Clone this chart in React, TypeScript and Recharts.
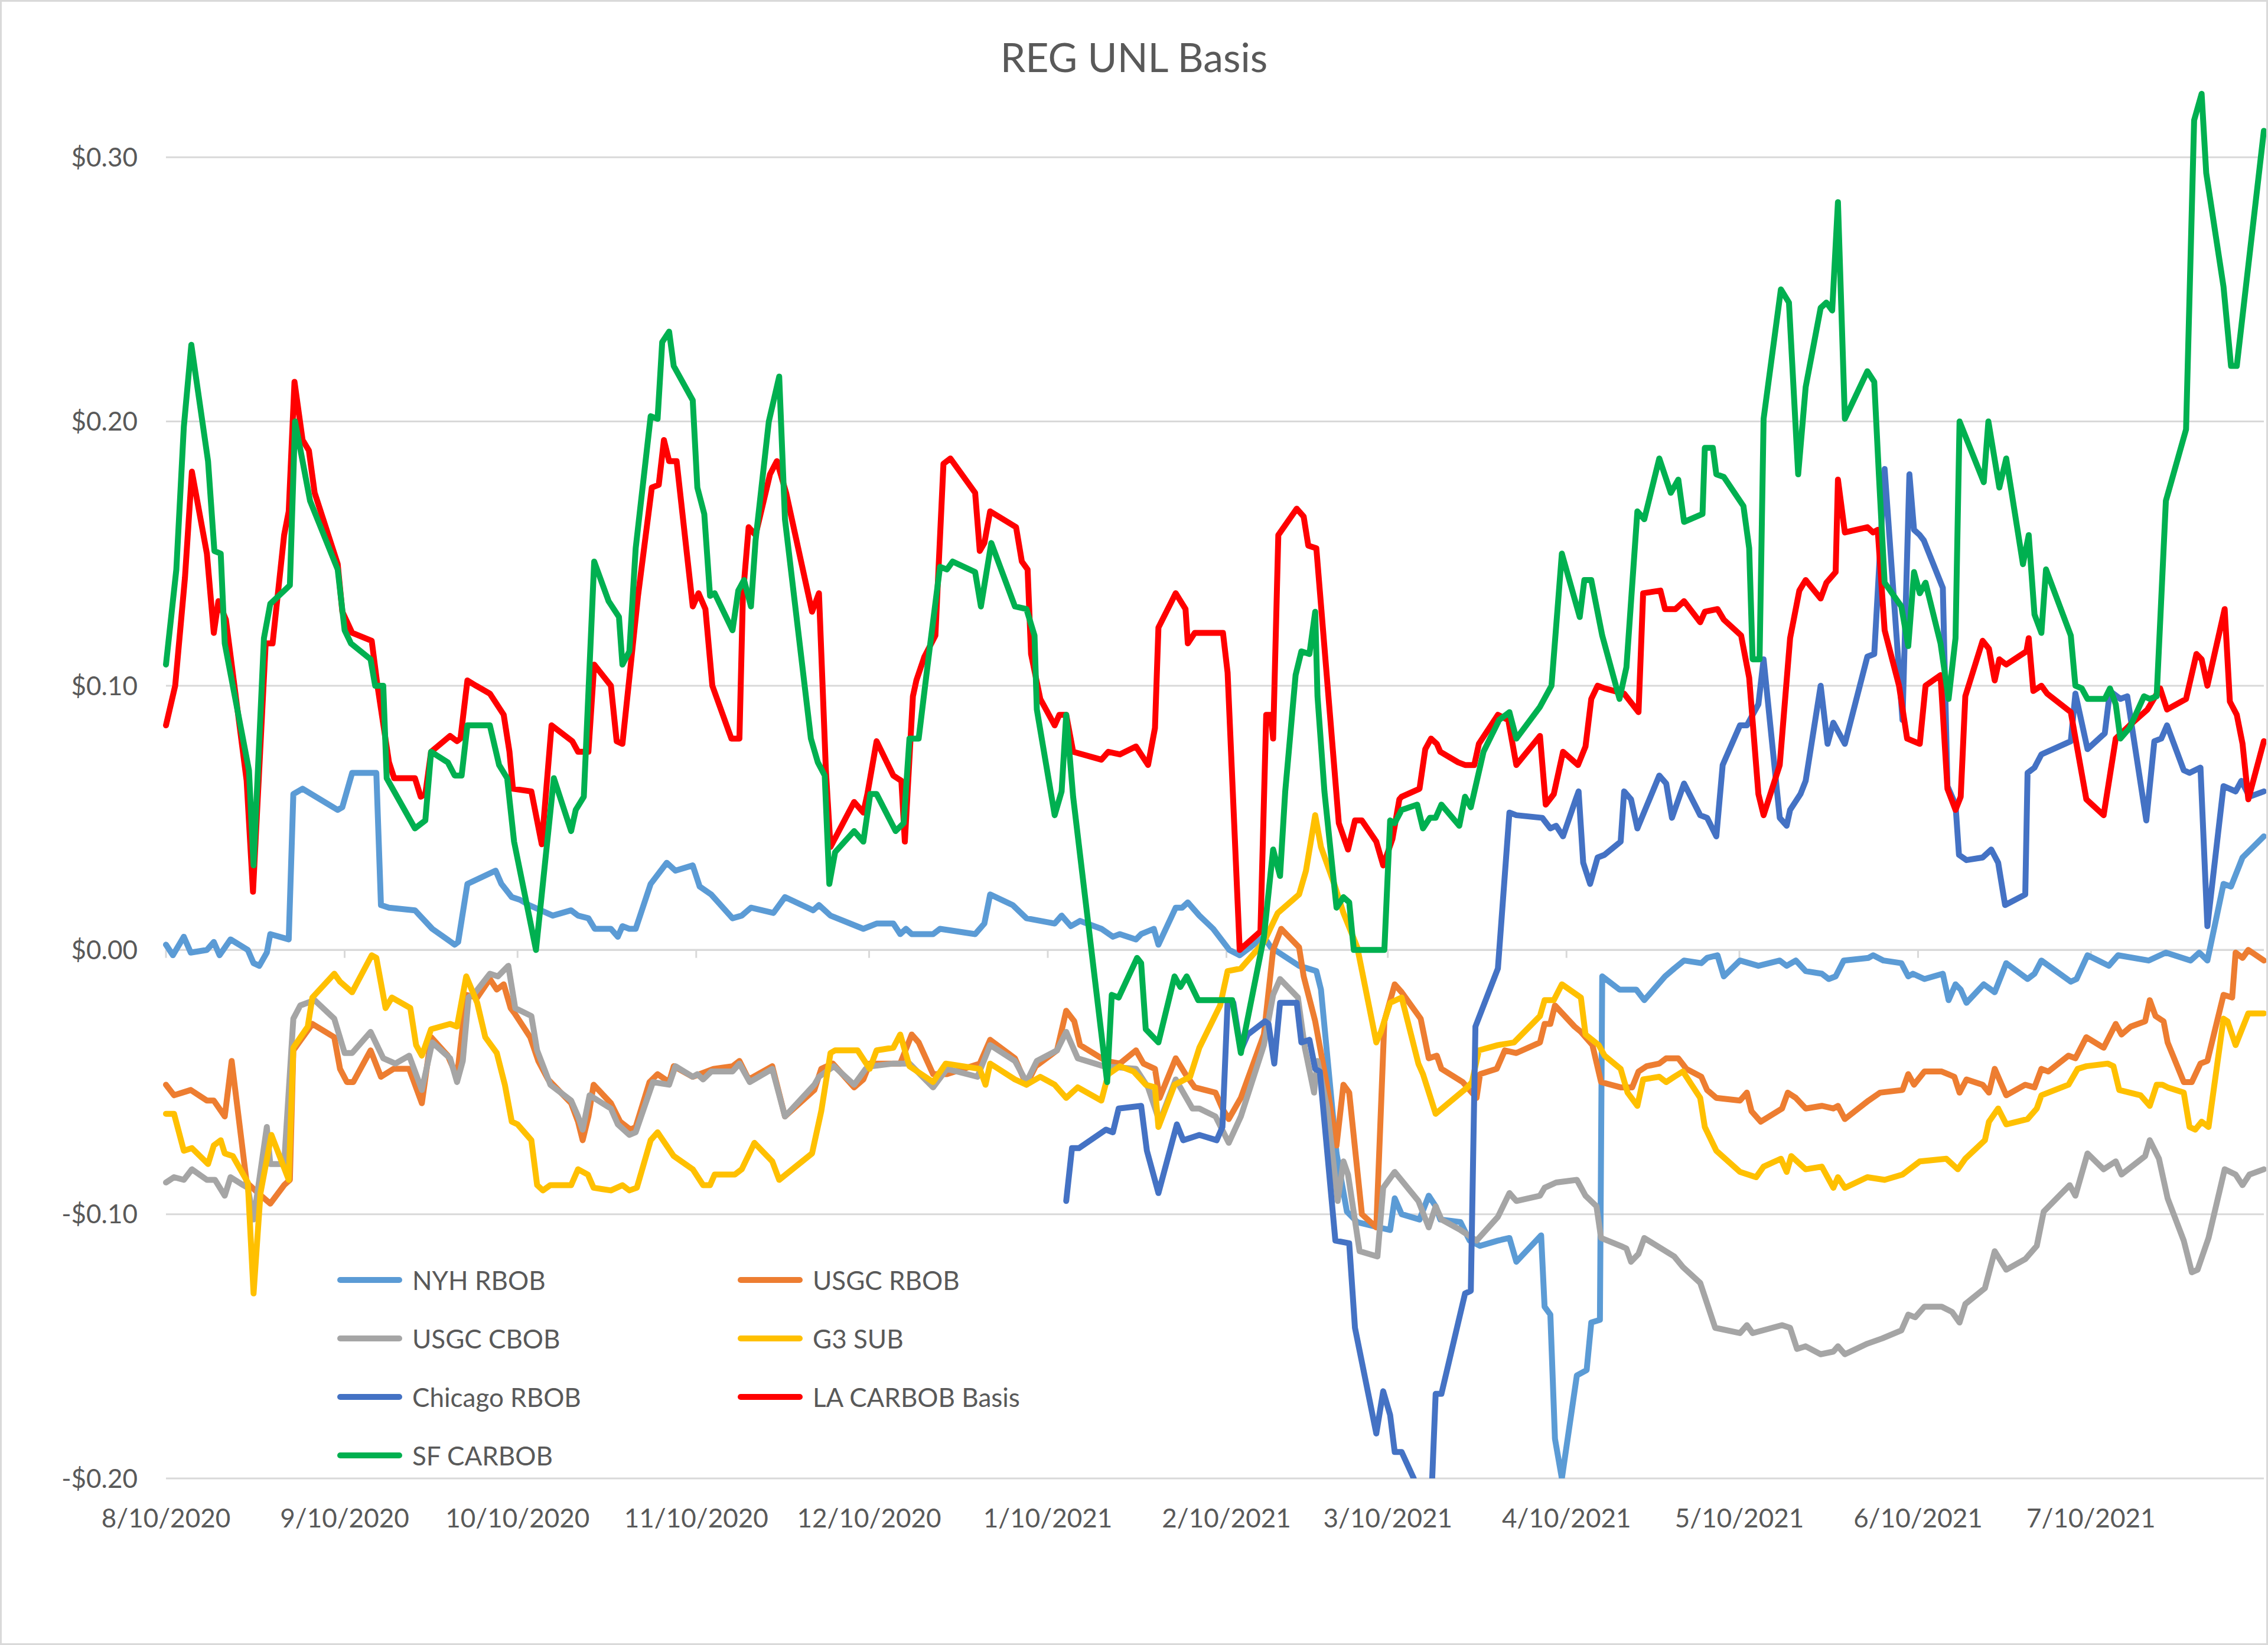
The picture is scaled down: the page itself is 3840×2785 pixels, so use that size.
import React from 'react';
import { LineChart, Line, XAxis, YAxis, CartesianGrid, Legend, ReferenceLine } from 'recharts';

// x values are days counted from 8/10/2020
type Pt = [number, number];

const tickDays = [0, 31, 61, 92, 122, 153, 184, 212, 243, 273, 304, 334];
const tickLabels = ['8/10/2020', '9/10/2020', '10/10/2020', '11/10/2020', '12/10/2020', '1/10/2021', '2/10/2021', '3/10/2021', '4/10/2021', '5/10/2021', '6/10/2021', '7/10/2021'];
const yTicks = [-0.2, -0.1, 0, 0.1, 0.2, 0.3];

const nyhRbob: Pt[] = [
  [0, 0.002], [1.2, -0.002], [3.1, 0.005], [4.3, -0.001], [7.1, 0], [8.3, 0.003], [9.3, -0.002], [11.2, 0.004], [14.2, 0], [15.2, -0.005],
  [16.2, -0.006], [17.5, -0.001], [18.1, 0.006], [21.3, 0.004], [22.1, 0.059], [23.7, 0.061], [29.8, 0.053], [30.6, 0.054], [32.3, 0.067], [36.5, 0.067],
  [37.3, 0.017], [38.7, 0.016], [43.2, 0.015], [46.2, 0.008], [50.1, 0.002], [50.7, 0.003], [52.3, 0.025], [57.2, 0.03], [58.2, 0.025], [60, 0.02],
  [61.4, 0.019], [63, 0.017], [67.1, 0.013], [70.3, 0.015], [71.5, 0.013], [73.3, 0.012], [74.4, 0.008], [77.2, 0.008], [78.4, 0.005], [79.2, 0.009],
  [80.4, 0.008], [81.5, 0.008], [84.1, 0.025], [86.9, 0.033], [88.4, 0.03], [91.4, 0.032], [92.6, 0.024], [94.6, 0.021], [98.3, 0.012], [99.9, 0.013],
  [101.5, 0.016], [105.4, 0.014], [107.4, 0.02], [112.3, 0.015], [113.3, 0.017], [115.3, 0.013], [121, 0.008], [123.3, 0.01], [126.2, 0.01], [127.4, 0.006],
  [128.4, 0.008], [129.4, 0.006], [133.1, 0.006], [134.3, 0.008], [140.4, 0.006], [142, 0.01], [143, 0.021], [146.9, 0.017], [149.3, 0.012], [154.2, 0.01],
  [155.4, 0.013], [157, 0.009], [158.6, 0.011], [162.3, 0.008], [164.3, 0.005], [165.5, 0.006], [168.3, 0.004], [169.2, 0.006], [171.4, 0.008], [172.2, 0.002],
  [175.2, 0.016], [176.3, 0.016], [177.3, 0.018], [179.3, 0.013], [181.7, 0.008], [184.5, 0], [186.3, -0.002], [190.5, 0.005], [191.7, 0.001], [196.6, -0.006],
  [199.6, -0.008], [200.4, -0.015], [203.1, -0.077], [204.9, -0.099], [206.7, -0.103], [210.4, -0.105], [212.4, -0.106], [213.2, -0.094], [214.4, -0.1], [217.5, -0.102],
  [219.1, -0.093], [220.3, -0.097], [221.1, -0.102], [224.6, -0.103], [226.2, -0.11], [228, -0.112], [231.1, -0.11], [233.1, -0.109], [234.3, -0.118], [238.6, -0.108],
  [239.2, -0.135], [240.2, -0.138], [241, -0.185], [242.2, -0.2], [244.8, -0.161], [246.5, -0.159], [247.3, -0.141], [248.8, -0.14], [249.2, -0.01], [252.2, -0.015],
  [255.1, -0.015], [256.5, -0.019], [260.1, -0.01], [261.7, -0.007], [263.4, -0.004], [266.4, -0.005], [267.4, -0.003], [269.2, -0.002], [270.3, -0.01], [273.1, -0.004],
  [276.3, -0.006], [280, -0.004], [281.2, -0.006], [282.8, -0.004], [284.5, -0.008], [287.3, -0.009], [288.5, -0.011], [289.7, -0.01], [291.1, -0.004], [295.4, -0.003],
  [296.2, -0.002], [298, -0.004], [301.1, -0.005], [302.3, -0.01], [303.1, -0.009], [305.1, -0.011], [308.3, -0.009], [309.3, -0.019], [310.5, -0.013], [311.4, -0.015],
  [312.4, -0.02], [315.4, -0.013], [317.3, -0.016], [319.3, -0.005], [323, -0.011], [324.2, -0.009], [325.4, -0.004], [330.5, -0.012], [331.5, -0.011], [333.4, -0.002],
  [337.1, -0.006], [338.7, -0.002], [344, -0.004], [347, -0.001], [351.3, -0.004], [352.8, -0.001], [354.2, -0.004], [357, 0.025], [358.3, 0.024], [360.3, 0.035],
  [364, 0.043],
];

const usgcRbob: Pt[] = [
  [0, -0.051], [1.4, -0.055], [4.3, -0.053], [7.1, -0.057], [8.3, -0.057], [10.2, -0.063], [11.4, -0.042], [14, -0.088], [16.5, -0.093], [18.1, -0.096],
  [20.5, -0.089], [21.5, -0.087], [22.1, -0.038], [25.4, -0.028], [29.2, -0.033], [30.2, -0.045], [31.4, -0.05], [32.5, -0.05], [35.5, -0.038], [37.3, -0.048],
  [39.5, -0.045], [42.2, -0.045], [44.4, -0.058], [46, -0.033], [48.9, -0.04], [50.5, -0.048], [52.1, -0.017], [54, -0.018], [56.2, -0.011], [57.4, -0.015],
  [58.6, -0.013], [59.8, -0.022], [60.5, -0.024], [63.2, -0.033], [64.6, -0.042], [66.3, -0.049], [70.3, -0.058], [71.5, -0.065], [72.3, -0.072], [73.3, -0.063],
  [74.2, -0.051], [77.2, -0.058], [78.8, -0.065], [80.6, -0.068], [81.5, -0.067], [83.9, -0.05], [85.3, -0.047], [87.3, -0.05], [88.1, -0.044], [91.4, -0.048],
  [95, -0.045], [98.3, -0.044], [99.5, -0.042], [101.1, -0.049], [105.2, -0.044], [107.4, -0.063], [112.5, -0.053], [113.7, -0.045], [115.7, -0.043], [119.4, -0.052],
  [121, -0.049], [122.1, -0.043], [127.4, -0.043], [129.4, -0.032], [130.6, -0.035], [133.1, -0.047], [135.5, -0.047], [141.2, -0.043], [143, -0.034], [147.3, -0.041],
  [149.3, -0.051], [150.9, -0.044], [154.6, -0.038], [156.2, -0.023], [157.6, -0.027], [158.6, -0.036], [163.1, -0.042], [165.5, -0.043], [168.3, -0.038], [169.6, -0.043],
  [171.6, -0.045], [172.4, -0.056], [175.2, -0.041], [176.9, -0.047], [178.5, -0.052], [182.1, -0.054], [183.3, -0.06], [184.4, -0.064], [186.5, -0.056], [190.5, -0.032],
  [192.1, 0], [193.5, 0.008], [196.6, 0.001], [197.4, -0.01], [199.4, -0.027], [201.5, -0.052], [203.1, -0.074], [204.3, -0.051], [205.3, -0.054], [207.5, -0.1],
  [210, -0.105], [211.4, -0.027], [213.2, -0.013], [214.4, -0.016], [217.7, -0.026], [219.1, -0.041], [220.5, -0.04], [221.3, -0.045], [225, -0.05], [226.2, -0.053],
  [227.4, -0.056], [228, -0.047], [230.9, -0.045], [232.3, -0.038], [234.3, -0.039], [238.4, -0.035], [239.2, -0.028], [240.2, -0.028], [241, -0.021], [244.4, -0.029],
  [245.5, -0.031], [247.5, -0.036], [249, -0.05], [252.4, -0.052], [254.4, -0.052], [255.5, -0.046], [256.9, -0.044], [259.1, -0.043], [260.3, -0.041], [262.4, -0.041],
  [263.8, -0.045], [266.4, -0.048], [267.4, -0.053], [269, -0.056], [273.1, -0.057], [274.3, -0.054], [275.1, -0.061], [276.7, -0.065], [280.4, -0.06], [281.4, -0.054],
  [282.8, -0.056], [284.5, -0.06], [287.3, -0.059], [289.3, -0.06], [290.1, -0.059], [291.3, -0.064], [295.4, -0.057], [297.4, -0.054], [301.3, -0.053], [302.3, -0.047],
  [303.3, -0.051], [305.1, -0.046], [308.1, -0.046], [310.3, -0.048], [311.2, -0.054], [312.4, -0.049], [315.2, -0.051], [316.3, -0.054], [317.3, -0.045], [319.3, -0.055],
  [322.6, -0.051], [324.2, -0.052], [325.4, -0.045], [326.6, -0.046], [330.1, -0.04], [331.3, -0.041], [333.2, -0.033], [336.2, -0.037], [338.3, -0.028], [339.3, -0.032],
  [340.9, -0.029], [343.4, -0.027], [344.2, -0.019], [345.2, -0.025], [346.6, -0.027], [347.3, -0.035], [350.1, -0.05], [351.5, -0.05], [353, -0.043], [354.2, -0.042],
  [357, -0.017], [358.5, -0.018], [359.1, -0.001], [360.3, -0.003], [361.3, 0], [364, -0.004],
];

const usgcCbob: Pt[] = [
  [0, -0.088], [1.4, -0.086], [3.1, -0.087], [4.5, -0.083], [7.1, -0.087], [8.5, -0.087], [10.2, -0.093], [11.2, -0.086], [13.4, -0.089], [14.2, -0.09],
  [15.2, -0.102], [17.5, -0.067], [18.1, -0.081], [20.5, -0.081], [22.1, -0.026], [23.3, -0.021], [25.8, -0.019], [29.2, -0.026], [31, -0.039], [32.3, -0.039],
  [35.5, -0.031], [37.7, -0.041], [39.8, -0.043], [42.2, -0.04], [44.4, -0.053], [46.2, -0.035], [49.3, -0.041], [50.5, -0.05], [51.5, -0.042], [52.5, -0.018],
  [53.7, -0.016], [56.2, -0.009], [57.6, -0.01], [59.4, -0.006], [60.6, -0.022], [63.4, -0.025], [64.4, -0.038], [66.7, -0.051], [70.3, -0.057], [71.5, -0.063],
  [72.3, -0.068], [73.5, -0.055], [77.2, -0.06], [78.4, -0.066], [80.4, -0.07], [81.5, -0.069], [84.5, -0.05], [87.3, -0.051], [88.4, -0.044], [91.4, -0.048],
  [92.2, -0.047], [93.2, -0.049], [94.6, -0.046], [98.3, -0.046], [99.5, -0.043], [101.3, -0.05], [105.2, -0.045], [107.4, -0.063], [112.5, -0.051], [113.3, -0.048],
  [115.9, -0.044], [119.4, -0.051], [121.4, -0.045], [122.5, -0.044], [126.2, -0.043], [129, -0.043], [133.1, -0.052], [135.5, -0.045], [140.8, -0.048], [143, -0.036],
  [147.3, -0.042], [149.3, -0.05], [151.1, -0.042], [154.6, -0.038], [156.2, -0.031], [158.2, -0.041], [162.7, -0.044], [168.3, -0.045], [170.4, -0.052], [172.4, -0.065],
  [175.2, -0.049], [178.1, -0.06], [179.3, -0.06], [182.1, -0.063], [184.4, -0.073], [186.5, -0.063], [190.5, -0.036], [192.1, -0.017], [193.3, -0.011], [196.4, -0.018],
  [197.6, -0.037], [199.2, -0.054], [199.8, -0.042], [201.5, -0.06], [203.3, -0.095], [204.3, -0.08], [205.1, -0.085], [207.1, -0.114], [210.2, -0.116], [211.2, -0.09],
  [213.2, -0.084], [217.3, -0.095], [219.1, -0.105], [220.3, -0.097], [221.3, -0.102], [224.6, -0.106], [227.4, -0.11], [231.1, -0.101], [233.1, -0.092], [234.3, -0.095],
  [238.4, -0.093], [239.2, -0.09], [241.2, -0.088], [244.8, -0.087], [246.3, -0.093], [248.2, -0.097], [249, -0.109], [252.4, -0.112], [253.4, -0.113], [254.2, -0.118],
  [255.5, -0.115], [256.5, -0.109], [261.7, -0.116], [263.2, -0.12], [266.2, -0.126], [268.8, -0.143], [273.1, -0.145], [274.3, -0.142], [275.3, -0.145], [280.4, -0.142],
  [281.8, -0.143], [283, -0.151], [284.5, -0.15], [287.1, -0.153], [289.3, -0.152], [290.1, -0.15], [291.3, -0.153], [295.2, -0.149], [297.8, -0.147], [301.1, -0.144],
  [302.3, -0.138], [303.5, -0.139], [305.1, -0.135], [308.1, -0.135], [309.9, -0.137], [311.2, -0.141], [312.2, -0.134], [315.6, -0.128], [317.3, -0.114], [319.3, -0.121],
  [322.6, -0.117], [324.6, -0.112], [325.8, -0.099], [330.3, -0.089], [331.3, -0.093], [333.4, -0.077], [336.2, -0.083], [338.3, -0.08], [339.3, -0.085], [343.4, -0.078],
  [344.2, -0.072], [345.8, -0.079], [347.3, -0.094], [350.1, -0.11], [351.5, -0.122], [352.5, -0.121], [354.4, -0.109], [357.2, -0.083], [359.1, -0.085], [360.3, -0.089],
  [361.5, -0.085], [364, -0.083],
];

const g3Sub: Pt[] = [
  [0, -0.062], [1.4, -0.062], [3.1, -0.076], [4.5, -0.075], [7.3, -0.081], [8.3, -0.074], [9.5, -0.072], [10.2, -0.077], [11.6, -0.078], [14.2, -0.088],
  [15.2, -0.13], [16.4, -0.092], [18.3, -0.07], [21.3, -0.087], [22.1, -0.037], [24.6, -0.029], [25.4, -0.018], [29.2, -0.009], [30.2, -0.012], [32.3, -0.016],
  [35.7, -0.002], [36.5, -0.003], [38.1, -0.022], [39.2, -0.018], [42.4, -0.022], [43.4, -0.036], [44.4, -0.04], [46, -0.03], [49.3, -0.028], [50.5, -0.029],
  [52.1, -0.01], [54, -0.02], [55.4, -0.033], [57.4, -0.039], [58.8, -0.051], [60, -0.065], [61, -0.066], [63.4, -0.072], [64.4, -0.089], [65.4, -0.091],
  [66.7, -0.089], [70.3, -0.089], [71.5, -0.083], [73.2, -0.085], [74.2, -0.09], [77.2, -0.091], [79.2, -0.089], [80.4, -0.091], [81.7, -0.09], [84.1, -0.072],
  [85.3, -0.069], [88.1, -0.078], [91.4, -0.083], [93.2, -0.089], [94.4, -0.089], [95.2, -0.085], [98.7, -0.085], [99.9, -0.083], [102.1, -0.073], [105.2, -0.08],
  [106.4, -0.087], [112.1, -0.077], [113.7, -0.061], [115.3, -0.039], [116.1, -0.038], [120, -0.038], [122.1, -0.045], [123.3, -0.038], [126.2, -0.037], [127.4, -0.032],
  [129, -0.044], [133.1, -0.05], [135.3, -0.043], [141.2, -0.045], [142.2, -0.051], [143, -0.043], [147.3, -0.049], [149.3, -0.051], [151.7, -0.048], [154.2, -0.051],
  [156.2, -0.056], [158.2, -0.052], [162.3, -0.057], [163.5, -0.047], [165.5, -0.044], [167.9, -0.046], [170, -0.051], [171.6, -0.052], [172.2, -0.067], [175, -0.051],
  [177.7, -0.048], [179.3, -0.037], [182.9, -0.021], [184.2, -0.008], [186.5, -0.007], [190.5, 0.003], [192.9, 0.014], [196.6, 0.021], [197.8, 0.03], [199.4, 0.051],
  [200.4, 0.039], [202.7, 0.025], [204.3, 0.014], [206.7, 0.001], [210, -0.035], [210.8, -0.031], [212.4, -0.02], [214.4, -0.018], [217.3, -0.043], [218.1, -0.047],
  [220.3, -0.062], [225.8, -0.052], [226.6, -0.05], [227.8, -0.038], [231.1, -0.036], [233.9, -0.035], [238.4, -0.025], [239.2, -0.019], [240.8, -0.019], [242.2, -0.013],
  [245.5, -0.018], [246.3, -0.032], [248.6, -0.036], [249.6, -0.04], [252.4, -0.045], [253.6, -0.054], [255.3, -0.059], [256.3, -0.049], [259.1, -0.048], [260.3, -0.05],
  [261.7, -0.048], [263.2, -0.046], [266.2, -0.056], [267, -0.067], [269, -0.076], [273.1, -0.084], [275.9, -0.086], [277.2, -0.082], [280.2, -0.079], [281.2, -0.084],
  [282, -0.078], [284.5, -0.083], [287.3, -0.082], [289.3, -0.09], [290.1, -0.086], [291.3, -0.09], [295.2, -0.086], [298.2, -0.087], [301.3, -0.085], [304.3, -0.08],
  [308.9, -0.079], [310.9, -0.083], [312.2, -0.079], [315.6, -0.072], [316.3, -0.065], [317.9, -0.06], [319.3, -0.066], [323, -0.064], [324.6, -0.06], [325.4, -0.055],
  [330.1, -0.051], [331.7, -0.045], [333.2, -0.044], [336.9, -0.043], [337.9, -0.044], [338.9, -0.053], [342.6, -0.055], [344.2, -0.059], [345.4, -0.051], [346.4, -0.051],
  [347.3, -0.052], [350.1, -0.054], [351.1, -0.067], [352.1, -0.068], [353.2, -0.065], [354.4, -0.067], [357, -0.026], [357.7, -0.027], [359.1, -0.036], [361.3, -0.024],
  [364, -0.024],
];

const chicagoRbob: Pt[] = [
  [156.2, -0.095], [157.2, -0.075], [158.4, -0.075], [163.1, -0.068], [164.3, -0.069], [165.3, -0.06], [169.2, -0.059], [170.2, -0.076], [172.2, -0.092], [175.4, -0.066],
  [176.5, -0.072], [179.3, -0.07], [182.3, -0.072], [183.3, -0.067], [184.2, -0.02], [185.2, -0.02], [186.5, -0.038], [187.7, -0.032], [190.7, -0.027], [191.3, -0.028],
  [192.3, -0.043], [193.3, -0.02], [196.2, -0.02], [197, -0.035], [198.4, -0.034], [199.4, -0.045], [200.2, -0.046], [202.9, -0.11], [205.3, -0.111], [206.3, -0.143],
  [210, -0.183], [211.2, -0.167], [212.4, -0.176], [213.2, -0.19], [214.4, -0.19], [216.5, -0.2], [218, -0.23], [219.7, -0.2], [220.3, -0.168], [221.3, -0.168],
  [225.4, -0.13], [226.4, -0.129], [227.2, -0.029], [231.1, -0.007], [233.1, 0.052], [234.3, 0.051], [238.8, 0.05], [240.2, 0.046], [241.2, 0.047], [242.4, 0.043],
  [244.6, 0.057], [245.1, 0.06], [245.9, 0.033], [247.1, 0.025], [248.4, 0.035], [249.6, 0.036], [252.4, 0.041], [253, 0.06], [254.2, 0.057], [255.3, 0.046],
  [259.1, 0.066], [260.3, 0.063], [261.3, 0.05], [263.4, 0.063], [266.2, 0.051], [267.4, 0.05], [269, 0.043], [270.1, 0.07], [273.1, 0.085], [274.3, 0.085],
  [276.3, 0.093], [277.2, 0.11], [280, 0.05], [281.2, 0.047], [281.8, 0.053], [283.6, 0.059], [284.5, 0.064], [287.1, 0.1], [288.3, 0.078], [289.3, 0.086],
  [291.3, 0.078], [295.2, 0.111], [296.4, 0.112], [298.2, 0.182], [299.9, 0.13], [301.3, 0.087], [302.5, 0.18], [303.3, 0.159], [304.3, 0.157], [305, 0.155],
  [308.3, 0.137], [309.1, 0.062], [310.5, 0.055], [311.1, 0.036], [312.4, 0.034], [315.2, 0.035], [316.7, 0.038], [317.9, 0.033], [319.1, 0.017], [322.6, 0.021],
  [323, 0.067], [324.2, 0.069], [325.4, 0.074], [330.5, 0.079], [331.3, 0.097], [333.4, 0.076], [336.4, 0.082], [337.3, 0.098], [339.1, 0.095], [340.3, 0.096],
  [343.6, 0.049], [345, 0.079], [346.2, 0.08], [347.2, 0.085], [350.1, 0.068], [351.1, 0.067], [353, 0.069], [354.2, 0.009], [357, 0.062], [359.1, 0.06],
  [360.1, 0.064], [361.5, 0.058], [364, 0.06],
];

const laCarbob: Pt[] = [
  [0, 0.085], [1.6, 0.1], [3.3, 0.141], [4.5, 0.181], [7.1, 0.15], [8.3, 0.12], [9.1, 0.132], [10.4, 0.125], [14, 0.064], [15.1, 0.022],
  [17.3, 0.116], [18.5, 0.116], [20.5, 0.157], [21.3, 0.166], [22.3, 0.215], [23.7, 0.193], [24.8, 0.189], [25.8, 0.173], [29.8, 0.146], [30.6, 0.128],
  [32.3, 0.12], [35.7, 0.117], [36.7, 0.1], [38.7, 0.071], [39.6, 0.065], [43.2, 0.065], [44.2, 0.058], [45, 0.059], [46, 0.075], [49.3, 0.081],
  [50.5, 0.079], [51.1, 0.08], [52.3, 0.102], [53.8, 0.1], [56.2, 0.097], [58.6, 0.089], [59.6, 0.075], [60.2, 0.061], [63.4, 0.06], [65.2, 0.04],
  [66.9, 0.085], [70.5, 0.079], [71.5, 0.075], [73.3, 0.075], [74.3, 0.108], [77.2, 0.1], [78.2, 0.079], [79.2, 0.078], [81.9, 0.134], [84.3, 0.175],
  [85.5, 0.176], [86.4, 0.193], [87.3, 0.185], [88.6, 0.185], [91.4, 0.13], [92.4, 0.135], [93.6, 0.129], [94.8, 0.1], [98.1, 0.08], [99.5, 0.08],
  [100.1, 0.134], [101.1, 0.16], [102.3, 0.157], [104.8, 0.18], [106, 0.185], [107.6, 0.173], [112.1, 0.128], [113.3, 0.135], [114.5, 0.068], [115.3, 0.039],
  [119.4, 0.056], [121, 0.052], [121.7, 0.059], [123.3, 0.079], [126.2, 0.066], [127.6, 0.064], [128.2, 0.041], [129.6, 0.096], [130.2, 0.102], [131.6, 0.111],
  [133.5, 0.119], [134.9, 0.184], [136.1, 0.186], [140.4, 0.173], [141.2, 0.151], [142, 0.154], [143, 0.166], [147.5, 0.16], [148.5, 0.147], [149.5, 0.144],
  [150.1, 0.112], [151.7, 0.095], [154.2, 0.085], [155, 0.089], [156.2, 0.089], [157.4, 0.075], [162.3, 0.072], [163.5, 0.075], [165.5, 0.074], [168.3, 0.077],
  [170.4, 0.07], [171.6, 0.084], [172.2, 0.122], [175.2, 0.135], [176.9, 0.129], [177.3, 0.116], [178.5, 0.12], [183.4, 0.12], [184.2, 0.105], [186.3, 0],
  [189.9, 0.007], [190.9, 0.089], [191.7, 0.089], [192.1, 0.08], [193, 0.157], [196.2, 0.167], [197.4, 0.164], [198.2, 0.153], [199.6, 0.152], [203.5, 0.048],
  [205.1, 0.038], [206.3, 0.049], [207.5, 0.049], [210, 0.041], [211.2, 0.032], [212.8, 0.042], [214, 0.057], [214.4, 0.058], [217.5, 0.061], [218.5, 0.076],
  [219.5, 0.08], [220.5, 0.078], [221.1, 0.075], [224.2, 0.071], [225.4, 0.07], [227, 0.07], [227.8, 0.078], [231.1, 0.089], [232.9, 0.087], [234.3, 0.07],
  [238.4, 0.081], [239.4, 0.055], [240.8, 0.059], [242.4, 0.075], [245, 0.07], [246.3, 0.077], [247.3, 0.095], [248.4, 0.1], [249.6, 0.099], [253, 0.097],
  [255.5, 0.09], [256.3, 0.135], [259.3, 0.136], [260.1, 0.129], [261.9, 0.129], [263.4, 0.132], [266.2, 0.124], [267, 0.128], [269.2, 0.129], [270.3, 0.125],
  [273.3, 0.119], [274.7, 0.103], [276.3, 0.059], [277.2, 0.051], [280, 0.07], [281.8, 0.118], [283.4, 0.136], [284.5, 0.14], [287.1, 0.133], [288.1, 0.139],
  [289.7, 0.143], [290.1, 0.178], [291.3, 0.158], [295.2, 0.16], [296.2, 0.158], [297, 0.159], [298.2, 0.121], [300.7, 0.1], [302.1, 0.08], [304.3, 0.078],
  [305.3, 0.1], [307.9, 0.104], [309.1, 0.061], [310.5, 0.053], [311.4, 0.058], [312.2, 0.096], [315.2, 0.117], [316.3, 0.114], [317.3, 0.102], [318.1, 0.11],
  [319.3, 0.108], [322.8, 0.113], [323.2, 0.118], [324, 0.098], [325.4, 0.1], [326.4, 0.097], [330.5, 0.09], [333.2, 0.057], [336.2, 0.051], [338.3, 0.08],
  [340.7, 0.085], [343.8, 0.091], [346, 0.099], [347.2, 0.091], [350.5, 0.095], [352.3, 0.112], [353.2, 0.11], [354.2, 0.1], [357.2, 0.129], [358.1, 0.094],
  [359.3, 0.089], [360.3, 0.078], [361.3, 0.057], [364, 0.079],
];

const sfCarbob: Pt[] = [
  [0, 0.108], [1.8, 0.144], [3.1, 0.198], [4.4, 0.229], [7.3, 0.185], [8.4, 0.151], [9.5, 0.15], [10.2, 0.116], [14.4, 0.068], [15.2, 0.032],
  [17, 0.118], [18.1, 0.131], [21.5, 0.138], [22.4, 0.2], [25, 0.17], [29.8, 0.144], [31, 0.121], [32.1, 0.116], [35.5, 0.11], [36.3, 0.1],
  [37.7, 0.1], [38.3, 0.065], [43.2, 0.046], [45, 0.049], [46, 0.075], [48.9, 0.071], [50.1, 0.066], [51.3, 0.066], [52.3, 0.085], [56.2, 0.085],
  [57.8, 0.07], [59.2, 0.065], [60.4, 0.041], [64.2, 0], [67.3, 0.065], [70.3, 0.045], [71.1, 0.053], [72.5, 0.058], [74.3, 0.147], [76.8, 0.132],
  [78.6, 0.126], [79.2, 0.108], [80.4, 0.113], [81.5, 0.152], [84.1, 0.202], [85.3, 0.201], [86.1, 0.23], [87.3, 0.234], [88.1, 0.221], [91.4, 0.208],
  [92.2, 0.175], [93.4, 0.165], [94.4, 0.134], [95.2, 0.135], [98.3, 0.121], [99.3, 0.136], [100.3, 0.14], [101.5, 0.13], [102.3, 0.155], [104.6, 0.2],
  [106.4, 0.217], [107.4, 0.163], [111.9, 0.08], [113.1, 0.071], [114.3, 0.066], [115.1, 0.025], [116.1, 0.037], [119.4, 0.045], [121, 0.041], [122.2, 0.059],
  [123.3, 0.059], [126.6, 0.045], [128, 0.048], [129, 0.08], [130.6, 0.08], [132.5, 0.114], [134.3, 0.145], [135.5, 0.144], [136.5, 0.147], [140.4, 0.143],
  [141.4, 0.13], [143.2, 0.154], [147.3, 0.13], [149.3, 0.129], [150.7, 0.119], [151.1, 0.091], [154.2, 0.051], [155.4, 0.06], [156.2, 0.089], [157.4, 0.058],
  [163.3, -0.05], [164.1, -0.017], [165.3, -0.018], [168.5, -0.003], [169.2, -0.005], [170, -0.03], [172.2, -0.035], [175, -0.01], [176, -0.014], [177.1, -0.01],
  [179.1, -0.019], [185, -0.019], [186.5, -0.039], [190.5, 0.005], [192.1, 0.038], [193.3, 0.028], [194.2, 0.06], [196, 0.104], [197, 0.113], [198.4, 0.112],
  [199.4, 0.128], [199.8, 0.096], [201, 0.06], [203.1, 0.016], [204.3, 0.02], [205.3, 0.018], [206.1, 0], [211.4, 0], [212.4, 0.049], [213.2, 0.048],
  [214.4, 0.053], [217.1, 0.055], [218.1, 0.046], [219.3, 0.05], [220.3, 0.05], [221.3, 0.055], [224.4, 0.047], [225.4, 0.058], [226.4, 0.054], [228.6, 0.075],
  [231.3, 0.087], [233.1, 0.09], [234.3, 0.08], [238.4, 0.092], [240.4, 0.1], [242.2, 0.15], [245.3, 0.126], [246.1, 0.14], [247.3, 0.14], [249.2, 0.119],
  [252.2, 0.095], [253.4, 0.107], [255.3, 0.166], [256.5, 0.163], [259.1, 0.186], [261.1, 0.173], [262.4, 0.178], [263.4, 0.162], [266.6, 0.165], [267, 0.19],
  [268.4, 0.19], [269, 0.18], [270.3, 0.179], [273.7, 0.168], [274.7, 0.152], [275.3, 0.11], [276.5, 0.11], [277.2, 0.201], [280.2, 0.25], [281.6, 0.245],
  [283.2, 0.18], [284.5, 0.213], [287.1, 0.243], [288.1, 0.245], [289.1, 0.242], [290.1, 0.283], [291.3, 0.201], [295.2, 0.219], [296.4, 0.215], [297.2, 0.18],
  [298.2, 0.139], [301.1, 0.13], [302.3, 0.115], [303.3, 0.143], [304.3, 0.135], [305.3, 0.139], [307.9, 0.116], [309.3, 0.095], [310.5, 0.118], [311.2, 0.2],
  [315.4, 0.177], [316.2, 0.2], [318.1, 0.175], [319.3, 0.186], [322.2, 0.146], [323.2, 0.157], [324.2, 0.127], [325.4, 0.12], [326.2, 0.144], [330.5, 0.119],
  [331.3, 0.1], [332.4, 0.099], [333.4, 0.095], [336.4, 0.095], [337.3, 0.099], [338.3, 0.093], [339.1, 0.08], [340.7, 0.084], [343.2, 0.096], [344.2, 0.095],
  [345.4, 0.096], [347, 0.17], [350.5, 0.197], [351.9, 0.314], [353.2, 0.324], [354, 0.294], [357, 0.251], [358.3, 0.221], [359.3, 0.221], [364, 0.31],
];

const SERIES = [
  { key: 'nyh', name: 'NYH RBOB', color: '#5B9BD5', data: nyhRbob },
  { key: 'usgcR', name: 'USGC RBOB', color: '#ED7D31', data: usgcRbob },
  { key: 'usgcC', name: 'USGC CBOB', color: '#A5A5A5', data: usgcCbob },
  { key: 'g3', name: 'G3 SUB', color: '#FFC000', data: g3Sub },
  { key: 'chi', name: 'Chicago RBOB', color: '#4472C4', data: chicagoRbob },
  { key: 'la', name: 'LA CARBOB Basis', color: '#FF0000', data: laCarbob },
  { key: 'sf', name: 'SF CARBOB', color: '#00B050', data: sfCarbob },
];

const FONT = 'Lato, "Open Sans", sans-serif';
const TEXT = '#595959';
const GRID = '#D9D9D9';
const W = 3840;
const H = 2785;
const LINE_W = 10;

const toPoints = (arr: Pt[]) => arr.map(([d, v]) => ({ d, v }));

const fmtDollar = (v: number) => (v < 0 ? `-$${Math.abs(v).toFixed(2)}` : `$${v.toFixed(2)}`);
const fmtDate = (d: number) => tickLabels[tickDays.indexOf(d)] ?? '';

const renderLegend = () => (
  <div
    style={{
      display: 'grid',
      gridTemplateColumns: '678px 678px',
      gridAutoRows: '99px',
      fontFamily: FONT,
      fontSize: 44,
      color: TEXT,
    }}
  >
    {SERIES.map((s) => (
      <div key={s.key} style={{ display: 'flex', alignItems: 'center' }}>
        <svg width={110} height={14} style={{ display: 'block' }}>
          <line x1={5} x2={105} y1={7} y2={7} stroke={s.color} strokeWidth={LINE_W} strokeLinecap="round" />
        </svg>
        <span style={{ marginLeft: 17, whiteSpace: 'nowrap' }}>{s.name}</span>
      </div>
    ))}
  </div>
);

export default function App() {
  return (
    <div style={{ position: 'absolute', left: 0, top: 0, width: W, height: H, background: '#fff', overflow: 'hidden' }}>
      <div
        style={{
          position: 'absolute',
          top: 62,
          left: 0,
          width: W,
          textAlign: 'center',
          fontFamily: FONT,
          fontSize: 68,
          lineHeight: 1,
          color: TEXT,
        }}
      >
        REG UNL Basis
      </div>
      <LineChart width={W} height={H} margin={{ top: 132, right: 7, bottom: 0, left: 0 }}>
        <CartesianGrid vertical={false} horizontalValues={yTicks} stroke={GRID} strokeWidth={3} />
        <XAxis
          type="number"
          dataKey="d"
          domain={[0, 364]}
          ticks={tickDays}
          tickFormatter={fmtDate}
          interval={0}
          height={282}
          axisLine={false}
          tickLine={false}
          tickSize={0}
          tickMargin={52}
          tick={{ fill: TEXT, fontSize: 44, fontFamily: FONT }}
        />
        <YAxis
          type="number"
          domain={[-0.2, 0.33]}
          allowDataOverflow
          ticks={yTicks}
          tickFormatter={fmtDollar}
          width={281}
          axisLine={false}
          tickLine={false}
          tickSize={0}
          tickMargin={48}
          tick={{ fill: TEXT, fontSize: 44, fontFamily: FONT }}
        />
        <ReferenceLine y={0} stroke={GRID} strokeWidth={3} />
        {tickDays.map((t) => (
          <ReferenceLine
            key={`tm-${t}`}
            segment={[{ x: t, y: 0 }, { x: t, y: -0.003 }]}
            stroke={GRID}
            strokeWidth={3}
          />
        ))}
        <Legend
          layout="vertical"
          align="center"
          verticalAlign="middle"
          content={renderLegend}
          wrapperStyle={{ left: 571, top: 2117, right: 'auto', bottom: 'auto', width: 1400 }}
        />
        {SERIES.map((s) => (
          <Line
            key={s.key}
            name={s.name}
            data={toPoints(s.data)}
            dataKey="v"
            type="linear"
            stroke={s.color}
            strokeWidth={LINE_W}
            strokeLinejoin="round"
            strokeLinecap="round"
            dot={false}
            activeDot={false}
            isAnimationActive={false}
          />
        ))}
      </LineChart>
      <div
        style={{
          position: 'absolute',
          left: 0,
          top: 0,
          width: W,
          height: H,
          boxSizing: 'border-box',
          border: `3px solid ${GRID}`,
          pointerEvents: 'none',
        }}
      />
    </div>
  );
}
